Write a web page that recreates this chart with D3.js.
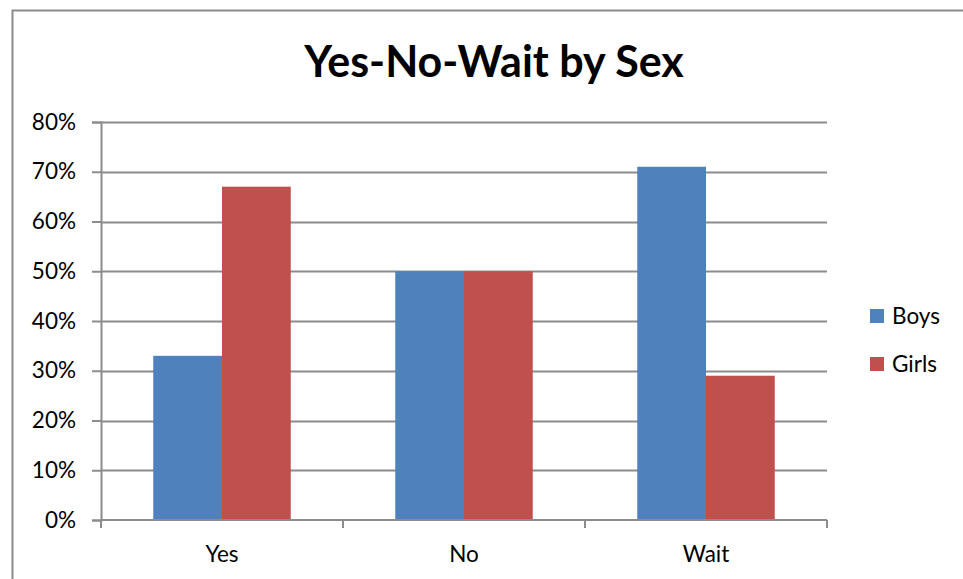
<!DOCTYPE html>
<html>
<head>
<meta charset="utf-8">
<script src="https://cdn.jsdelivr.net/npm/d3@7"></script>
<style>
  body { margin: 0; background: #fff; }
  svg { display: block; font-family: Lato, "Open Sans", sans-serif; }
</style>
</head>
<body>
<div id="chart"></div>
<script>
var categories = ['Yes', 'No', 'Wait'];
var seriesNames = ['Boys', 'Girls'];
var boys = [0.33, 0.50, 0.71];
var girls = [0.67, 0.50, 0.29];
var yTicks = [0, 0.1, 0.2, 0.3, 0.4, 0.5, 0.6, 0.7, 0.8];

var colors = ['#4F81BD', '#C0504D'];

var width = 963, height = 579;
var margin = {left: 101, right: 136, top: 122, bottom: 59};

var svg = d3.select('#chart').append('svg')
    .attr('width', width)
    .attr('height', height);

// chart outer frame
svg.append('rect')
    .attr('x', 12.5).attr('y', 10.5)
    .attr('width', 970).attr('height', 600)
    .attr('fill', 'none')
    .attr('stroke', '#8c8c8c')
    .attr('stroke-width', 2);

svg.append('text')
    .attr('x', 494).attr('y', 77)
    .attr('text-anchor', 'middle')
    .attr('font-size', 43)
    .attr('font-weight', 'bold')
    .text('Yes-No-Wait by Sex');

var x0 = d3.scaleBand()
    .domain(categories)
    .range([margin.left, width - margin.right]);

var x1 = d3.scaleBand()
    .domain(seriesNames)
    .range([0, x0.bandwidth()])
    .paddingOuter(0.76)
    .paddingInner(0);

var y = d3.scaleLinear()
    .domain([0, 0.8])
    .range([height - margin.bottom, margin.top]);

// gridlines
svg.append('g')
    .selectAll('line')
    .data(yTicks.slice(1))
    .enter().append('line')
        .attr('x1', margin.left)
        .attr('x2', width - margin.right)
        .attr('y1', function(d){ return Math.round(y(d)) + 0.5; })
        .attr('y2', function(d){ return Math.round(y(d)) + 0.5; })
        .attr('stroke', '#8c8c8c')
        .attr('stroke-width', 2);

// bars
var rows = categories.map(function(c, i){ return {cat: c, vals: [boys[i], girls[i]]}; });

var groups = svg.append('g')
    .selectAll('g')
    .data(rows)
    .enter().append('g')
        .attr('transform', function(d){ return 'translate(' + x0(d.cat) + ',0)'; });

groups.selectAll('rect')
    .data(function(d){ return d.vals.map(function(v, j){ return {name: seriesNames[j], v: v, j: j}; }); })
    .enter().append('rect')
        .attr('x', function(d){ return x1(d.name); })
        .attr('width', x1.bandwidth())
        .attr('y', function(d){ return y(d.v); })
        .attr('height', function(d){ return y(0) - y(d.v); })
        .attr('fill', function(d){ return colors[d.j]; });

// y axis
var yAxis = svg.append('g')
    .attr('transform', 'translate(' + margin.left + ',0)')
    .call(d3.axisLeft(y).tickValues(yTicks).tickFormat(d3.format('.0%')).tickSize(9).tickPadding(16));

// x axis
var xAxis = svg.append('g')
    .attr('transform', 'translate(0,' + y(0) + ')')
    .call(d3.axisBottom(x0).tickSize(0).tickPadding(26));

// category boundary ticks
xAxis.selectAll('.bound')
    .data(d3.range(categories.length + 1))
    .enter().append('line')
        .attr('class', 'bound')
        .attr('x1', function(d){ return margin.left + d * x0.bandwidth(); })
        .attr('x2', function(d){ return margin.left + d * x0.bandwidth(); })
        .attr('y1', 0).attr('y2', 8);

[yAxis, xAxis].forEach(function(a){
    a.selectAll('path, line').attr('stroke', '#8c8c8c').attr('stroke-width', 2);
    a.selectAll('text').attr('font-size', 22.5).attr('fill', '#000')
        .attr('font-family', 'Lato, "Open Sans", sans-serif');
});
xAxis.select('.domain').attr('d', 'M' + margin.left + ',0H' + (width - margin.right));

// legend
var legend = svg.append('g')
    .selectAll('g')
    .data(seriesNames)
    .enter().append('g')
        .attr('transform', function(d, i){ return 'translate(870,' + (309 + i * 48) + ')'; });

legend.append('rect')
    .attr('width', 14).attr('height', 14)
    .attr('fill', function(d, i){ return colors[i]; });

legend.append('text')
    .attr('x', 22).attr('y', 15)
    .attr('font-size', 22.5)
    .text(function(d){ return d; });
</script>
</body>
</html>
